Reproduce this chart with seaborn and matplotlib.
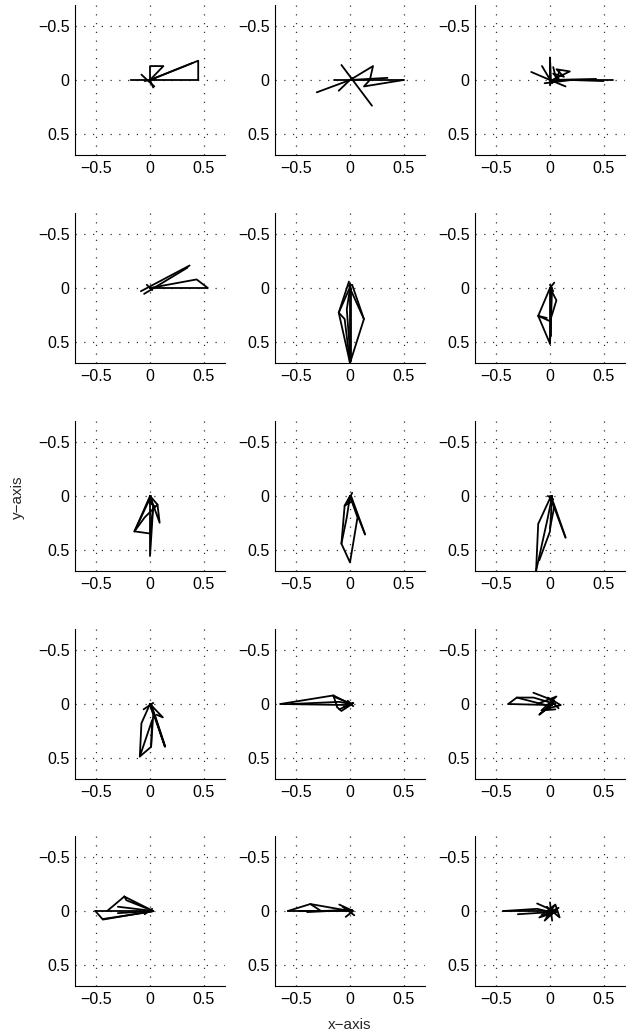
import numpy as np
import pandas as pd
import seaborn as sns
import matplotlib.pyplot as plt

# stroke coordinates for each panel (row-major, 5 rows x 3 cols); y axis is reversed
p01_x = [[-0.18, 0.45, 0.45, 0], [0, 0.40], [0, 0, 0.125, 0], [-0.08, 0.04], [-0.05, 0.05], [0, 0.03]]
p01_y = [[0, 0, -0.18, 0], [0, -0.16], [0, -0.13, -0.13, 0], [-0.05, 0.06], [0.01, -0.01], [0, 0.07]]

p02_x = [[-0.15, 0.5], [-0.08, 0.205], [-0.31, 0], [0, 0.215, 0.185, 0.13, 0.5], [-0.105, 0.02], [0, 0.35]]
p02_y = [[0, 0], [-0.14, 0.24], [0.115, 0], [0, -0.13, 0, 0.06, 0], [0.1, -0.02], [0, -0.02]]

p03_x = [[0, 0.59], [-0.175, 0, 0.43], [-0.075, 0.02], [0, 0, 0.01], [0, 0.145],
         [0.02, 0.185, 0.06, 0.13, 0.03, 0.1], [-0.05, 0.2, 0.5], [0.03, 0.06, 0.09]]
p03_y = [[0, 0], [-0.075, 0, -0.01], [-0.13, 0.03], [0.05, -0.21, 0.03], [0, 0.06],
         [0, -0.08, -0.1, -0.03, -0.06, 0.01], [0.03, 0.0, 0.01], [-0.12, 0, -0.09]]

p04_x = [[-0.085, 0.37], [-0.055, 0.35], [0, 0.435, 0.54, 0], [-0.03, 0.02]]
p04_y = [[0.03, -0.21], [0.055, -0.19], [0, -0.08, 0, 0], [-0.03, 0.02]]

p05_x = [[0, 0], [0.005, 0.005], [-0.01, -0.105, 0, 0.13, 0.02], [0.01, -0.105], [-0.01, 0.13],
         [-0.105, -0.05, 0], [0, -0.03, 0]]
p05_y = [[-0.05, 0.70], [0, 0.68], [-0.06, 0.23, 0.70, 0.29, -0.03], [-0.03, 0.23], [-0.02, 0.29],
         [0.23, 0.29, 0.70], [0, 0.2, 0.6]]

p06_x = [[0.04, 0, 0], [0.01, 0.01], [0, -0.11, 0, 0.02], [0, 0.06, 0.0, -0.11], [-0.11, -0.03],
         [0, 0.03]]
p06_y = [[-0.05, 0, 0.52], [0, 0.45], [0, 0.26, 0.52, 0], [0, 0.115, 0.31, 0.26], [0.26, 0.28],
         [-0.03, 0.03]]

p07_x = [[0, -0.145], [0.01, -0.14], [-0.145, 0, 0.03, 0], [0, 0, 0.03], [0, 0.09, 0.07, 0],
         [-0.145, -0.05, 0.07], [-0.02, 0.05]]
p07_y = [[0, 0.33], [0, 0.32], [0.33, 0.35, 0.1, 0], [0, 0.56, 0.1], [0, 0.25, 0.08, 0],
         [0.33, 0.2, 0.08], [0.05, 0.1]]

p08_x = [[0, 0.14], [0.01, 0.14], [0, -0.05, -0.08, 0, 0.07, 0], [-0.05, 0.02], [-0.02, 0.02],
         [-0.08, -0.03, 0]]
p08_y = [[0, 0.36], [0, 0.355], [0, 0.09, 0.445, 0.62, 0.2, 0], [0.09, 0.05], [0.06, -0.03],
         [0.445, 0.2, 0.0]]

p09_x = [[0, 0.145], [0.01, 0.145], [0.01, -0.11, -0.13], [-0.13, -0.02, 0.02], [-0.1, 0, 0.02],
         [0, 0.04, 0.0], [-0.02, 0.03]]
p09_y = [[0, 0.39], [0, 0.385], [0, 0.26, 0.70], [0.70, 0.2, 0.0], [0.6, 0.33, 0.0],
         [0.02, 0.1, 0.3], [0, 0.03]]

p10_x = [[0, -0.08, -0.095, 0.01, 0.03, 0], [0, 0.14, 0.05, 0], [0, 0.12, 0.06], [-0.095, 0.02, 0.01],
         [-0.06, 0.03], [0.01, 0.14]]
p10_y = [[0, 0.18, 0.49, 0.40, 0.1, 0], [0, 0.40, 0.12, 0], [0, 0.125, 0.1], [0.49, 0.15, 0.40],
         [0.05, -0.01], [0, 0.39]]

p11_x = [[-0.65, -0.155, 0], [-0.65, 0.01], [-0.155, -0.12, -0.08, 0.02, -0.155], [-0.1, 0.03, -0.06],
         [-0.55, -0.1, 0.0], [-0.02, 0.03]]
p11_y = [[0, -0.08, 0], [0, 0.01], [-0.08, 0.03, 0.065, 0.0, -0.07], [0.05, -0.01, 0.03],
         [0.0, -0.02, 0.0], [-0.03, 0.02]]

p12_x = [[-0.39, -0.31, -0.155, 0.05], [-0.39, 0.02], [-0.155, 0.04, -0.1, 0.03], [-0.05, 0.10, -0.02, 0.08],
         [-0.12, 0.06, -0.08, 0.05], [-0.31, 0.0]]
p12_y = [[0, -0.06, -0.06, 0.0], [0, 0.01], [-0.105, -0.03, 0.1, 0.0], [0.05, 0.01, -0.06, 0.04],
         [0.0, -0.07, 0.06, 0.05], [-0.06, 0.02]]

p13_x = [[-0.51, -0.44, 0.03], [-0.44, 0.02], [-0.51, 0.02], [-0.24, 0.03, -0.22, -0.24], [-0.24, -0.4],
         [-0.3, 0.03, -0.3], [-0.05, 0.02]]
p13_y = [[0, 0.08, 0.0], [0.075, 0.005], [0, 0], [-0.135, 0.0, -0.1, -0.135], [-0.135, 0],
         [0.02, 0.0, -0.04], [0.03, -0.02]]

p14_x = [[-0.58, -0.37, 0.0], [-0.58, -0.27, -0.37], [-0.48, 0.02], [-0.27, 0.01], [-0.10, 0.03, -0.04],
         [-0.07, 0.04], [-0.4, 0.02]]
p14_y = [[0, -0.065, 0.0], [0, 0, -0.065], [0.0, 0.0], [0, -0.01], [-0.06, 0.0, 0.055],
         [-0.04, 0.04], [0.01, -0.01]]

p15_x = [[-0.435, 0.0], [-0.435, -0.12, 0.05], [-0.12, 0.06, -0.1, 0.08, -0.05, 0.04],
         [-0.08, 0.05, 0.09, -0.03], [-0.3, 0.02], [0.0, 0.02]]
p15_y = [[0, 0], [0, -0.02, 0.02], [-0.07, 0.01, 0.06, -0.03, 0.09, -0.05],
         [0.04, -0.06, 0.06, -0.04], [0.03, 0.01], [-0.08, 0.09]]

panels_x = [p01_x, p02_x, p03_x, p04_x, p05_x, p06_x, p07_x, p08_x, p09_x,
            p10_x, p11_x, p12_x, p13_x, p14_x, p15_x]
panels_y = [p01_y, p02_y, p03_y, p04_y, p05_y, p06_y, p07_y, p08_y, p09_y,
            p10_y, p11_y, p12_y, p13_y, p14_y, p15_y]

ticks = [-0.5, 0, 0.5]
tick_labels = ["\u22120.5", "0", "0.5"]

sns.set_style("white")
plt.rcParams['font.family'] = ['Liberation Sans', 'DejaVu Sans']

W, H = 637, 1036
fig = plt.figure(figsize=(W / 100, H / 100), dpi=100)

col_left = [75, 275, 475]
row_top = [5, 213, 421, 629, 836]
size = 150

for i, (xs, ys) in enumerate(zip(panels_x, panels_y)):
    r, c = divmod(i, 3)
    ax = fig.add_axes([col_left[c] / W, 1 - (row_top[r] + size) / H, size / W, size / H])
    rows = []
    for k, (sx, sy) in enumerate(zip(xs, ys)):
        for j, (a, b) in enumerate(zip(sx, sy)):
            rows.append({"x": a, "y": b, "stroke": k, "order": j})
    df = pd.DataFrame(rows)
    sns.lineplot(data=df, x="x", y="y", units="stroke", estimator=None, sort=False,
                 color="black", lw=1.3, ax=ax, legend=False)
    ax.set_xlim(-0.7, 0.7)
    ax.set_ylim(0.7, -0.7)
    ax.set_xticks(ticks)
    ax.set_xticklabels(tick_labels)
    ax.set_yticks(ticks)
    ax.set_yticklabels(tick_labels)
    ax.set_xlabel("")
    ax.set_ylabel("")
    ax.grid(True, color="#333333", linestyle=(0, (1, 6)), linewidth=0.9)
    ax.tick_params(length=0, labelsize=11.5, pad=4, colors="black")
    for s in ["top", "right"]:
        ax.spines[s].set_visible(False)
    for s in ["left", "bottom"]:
        ax.spines[s].set_color("black")
        ax.spines[s].set_linewidth(0.8)

fig.text(18 / W, 1 - 497 / H, "y\u2212axis", rotation=90, ha="center", va="center", fontsize=11)
fig.text(350 / W, 1 - 1025 / H, "x\u2212axis", ha="center", va="center", fontsize=11)

fig.savefig("out.png", dpi=100)
